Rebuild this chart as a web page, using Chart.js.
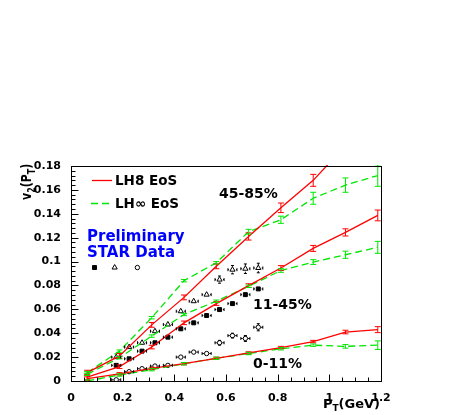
<!DOCTYPE html>
<html>
<head>
<meta charset="utf-8">
<script src="https://cdn.jsdelivr.net/npm/chart.js@4.4.1/dist/chart.umd.min.js"></script>
<style>
  html, body { margin: 0; padding: 0; background: #fff; }
  canvas { display: block; }
</style>
</head>
<body>
<canvas id="v2chart" width="457" height="415"></canvas>
<script>
// hydro curves (LH8 = red solid, LHinf = green dashed), sampled at ptModel
const ptModel = [0.0625, 0.1875, 0.3125, 0.4375, 0.5625, 0.6875, 0.8125, 0.9375, 1.0625, 1.1875];
const lh8Periph   = [0.007, 0.021, 0.047, 0.070, 0.096, 0.121, 0.145, 0.168, 0.197, null];
const lh8PeriphE  = [0.002, 0.002, 0.002, 0.002, 0.002, 0.003, 0.004, 0.005, 0.005, null];
const lh8Mid      = [0.0033, 0.012, 0.0284, 0.0487, 0.0648, 0.0799, 0.0946, 0.111, 0.1244, 0.1386];
const lh8MidE     = [0.002, 0.0015, 0.0015, 0.0015, 0.0015, 0.0015, 0.002, 0.0025, 0.003, 0.0045];
const lh8Central  = [0.002, 0.006, 0.0105, 0.0145, 0.019, 0.0235, 0.028, 0.033, 0.041, 0.043];
const lh8CentralE = [0.0015, 0.001, 0.001, 0.001, 0.001, 0.001, 0.001, 0.001, 0.0015, 0.0025];
const lhInfPeriph   = [0.007, 0.025, 0.053, 0.084, 0.099, 0.125, 0.135, 0.153, 0.164, 0.172];
const lhInfPeriphE  = [0.001, 0.001, 0.001, 0.001, 0.001, 0.002, 0.003, 0.005, 0.006, 0.009];
const lhInfMid      = [0.0056, 0.0195, 0.0376, 0.0557, 0.0668, 0.0793, 0.0925, 0.0996, 0.1057, 0.1119];
const lhInfMidE     = [0.001, 0.001, 0.001, 0.001, 0.001, 0.001, 0.0015, 0.002, 0.003, 0.005];
const lhInfCentral  = [0.0, 0.005, 0.0095, 0.0145, 0.019, 0.023, 0.027, 0.030, 0.029, 0.030];
const lhInfCentralE = [0.001, 0.001, 0.001, 0.001, 0.001, 0.001, 0.001, 0.001, 0.0015, 0.0036];

// STAR preliminary points
const ptData = [0.175, 0.225, 0.275, 0.325, 0.375, 0.425, 0.475, 0.525, 0.575, 0.625, 0.675, 0.725];
const ptDataE = 0.0175;
const starMid      = [0.0131, 0.0186, 0.025, 0.032, 0.0367, 0.0437, 0.0487, 0.0548, 0.0598, 0.0648, 0.0723, 0.0771];
const starMidE     = [0.001, 0.001, 0.001, 0.001, 0.001, 0.001, 0.001, 0.001, 0.001, 0.001, 0.001, 0.001];
const starPeriph   = [0.020, 0.0284, 0.032, 0.0417, 0.0473, 0.0584, 0.0668, 0.0723, 0.0849, 0.0932, 0.094, 0.0946];
const starPeriphE  = [0.0015, 0.0015, 0.0015, 0.0015, 0.0015, 0.0015, 0.002, 0.0025, 0.003, 0.0035, 0.004, 0.004];
const starCentral  = [0.001, 0.0078, 0.0103, 0.0125, 0.0131, 0.020, 0.0242, 0.023, 0.032, 0.038, 0.0356, 0.045];
const starCentralE = [0.001, 0.001, 0.001, 0.001, 0.001, 0.001, 0.0015, 0.0015, 0.002, 0.002, 0.0025, 0.003];

// marker key under "STAR Data"
const keyX = [0.091, 0.169, 0.257];
const keyY = [0.095, 0.095, 0.095];

const ptTicks = [0, 0.2, 0.4, 0.6, 0.8, 1.0, 1.2];
const v2Ticks = [0, 0.02, 0.04, 0.06, 0.08, 0.1, 0.12, 0.14, 0.16, 0.18];

const RED = '#ff0000';
const GREEN = '#00e600';

const zip = (xs, ys) => xs.map((x, i) => ({ x: x, y: ys[i] }));

function model(vals, errs, color, dashed) {
  return {
    data: zip(ptModel, vals),
    errY: errs,
    capW: 3,
    showLine: true,
    borderColor: color,
    borderWidth: 1.3,
    borderDash: dashed ? [7, 4] : [],
    pointRadius: 0,
    tension: 0,
    clip: 1
  };
}

function star(vals, errs, style, radius, fill) {
  return {
    data: zip(ptData, vals),
    errY: errs,
    errX: ptDataE,
    capW: 1.5,
    gap: radius,
    pointStyle: style,
    pointRadius: radius,
    borderWidth: 1,
    borderColor: '#000',
    backgroundColor: fill
  };
}

const errorBars = {
  id: 'errorBars',
  afterDatasetsDraw(chart) {
    const { ctx, chartArea: a, scales: { x, y } } = chart;
    ctx.save();
    ctx.beginPath();
    ctx.rect(a.left, a.top - 1, a.right - a.left, a.bottom - a.top + 2);
    ctx.clip();
    ctx.setLineDash([]);
    ctx.lineWidth = 1;
    const seg = (x1, y1, x2, y2) => { ctx.beginPath(); ctx.moveTo(x1, y1); ctx.lineTo(x2, y2); ctx.stroke(); };
    chart.data.datasets.forEach(ds => {
      if (!ds.errY) return;
      ctx.strokeStyle = ds.borderColor;
      const gap = ds.gap || 0;
      const cw = ds.capW;
      ds.data.forEach((p, j) => {
        if (p.y == null) return;
        const px = x.getPixelForValue(p.x);
        const py = y.getPixelForValue(p.y);
        const top = y.getPixelForValue(p.y + ds.errY[j]);
        const bot = y.getPixelForValue(p.y - ds.errY[j]);
        if (py - top > gap) {
          seg(px, py - gap, px, top);
          seg(px, bot, px, py + gap);
          seg(px - cw, top, px + cw, top);
          seg(px - cw, bot, px + cw, bot);
        }
        if (ds.errX) {
          const l = x.getPixelForValue(p.x - ds.errX);
          const r = x.getPixelForValue(p.x + ds.errX);
          seg(l, py, px - gap - 0.5, py);
          seg(px + gap + 0.5, py, r, py);
          seg(l, py - 1.5, l, py + 1.5);
          seg(r, py - 1.5, r, py + 1.5);
        }
      });
    });
    ctx.restore();
  }
};

const rootFrame = {
  id: 'rootFrame',
  afterDraw(chart) {
    const { ctx, chartArea: a, scales: { x, y } } = chart;
    ctx.save();
    ctx.strokeStyle = '#000';
    ctx.lineWidth = 1;
    ctx.setLineDash([]);
    const L = Math.round(a.left) + 0.5, R = Math.round(a.right) + 0.5;
    const T = Math.round(a.top) + 0.5, B = Math.round(a.bottom) + 0.5;
    ctx.strokeRect(L, T, R - L, B - T);
    ctx.beginPath();
    for (let i = 0; i <= 45; i++) {
      const py = Math.round(y.getPixelForValue(i * 0.004)) + 0.5;
      ctx.moveTo(L, py);
      ctx.lineTo(L + (i % 5 === 0 ? 7 : 4), py);
    }
    for (let i = 0; i <= 24; i++) {
      const px = Math.round(x.getPixelForValue(i * 0.05)) + 0.5;
      ctx.moveTo(px, B);
      ctx.lineTo(px, B - (i % 4 === 0 ? 7 : 4));
    }
    ctx.stroke();

    // legend for the model curves
    ctx.lineWidth = 1.3;
    ctx.strokeStyle = RED;
    ctx.beginPath(); ctx.moveTo(92, 180.5); ctx.lineTo(112, 180.5); ctx.stroke();
    ctx.strokeStyle = GREEN;
    ctx.setLineDash([7, 4]);
    ctx.beginPath(); ctx.moveTo(91, 203.5); ctx.lineTo(113, 203.5); ctx.stroke();
    ctx.setLineDash([]);

    ctx.textBaseline = 'alphabetic';
    ctx.textAlign = 'left';
    ctx.fillStyle = '#000';
    ctx.font = 'bold 13.5px "DejaVu Sans"';
    ctx.fillText('LH8 EoS', 115, 185);
    ctx.fillText('LH\u221E EoS', 115, 208);
    ctx.font = 'bold 14px "DejaVu Sans"';
    ctx.fillText('45-85%', 219, 198);
    ctx.fillText('11-45%', 253, 309);
    ctx.fillText('0-11%', 253, 368);
    ctx.fillStyle = '#0000ff';
    ctx.font = 'bold 15px "DejaVu Sans"';
    ctx.fillText('Preliminary', 87, 241);
    ctx.fillText('STAR Data', 87, 257);

    // axis titles with subscripts
    ctx.fillStyle = '#000';
    const big = 'bold 13px "DejaVu Sans"', sub = 'bold 9px "DejaVu Sans"';
    const xParts = [['P', big, 0], ['T', sub, 3], ['(GeV)', big, 0]];
    let w = 0;
    xParts.forEach(p => { ctx.font = p[1]; w += ctx.measureText(p[0]).width; });
    let cx = 380 - w;
    xParts.forEach(p => { ctx.font = p[1]; ctx.fillText(p[0], cx, 408 + p[2]); cx += ctx.measureText(p[0]).width; });

    ctx.translate(31, 200);
    ctx.rotate(-Math.PI / 2);
    ctx.scale(1, 1.3);
    const ybig = 'bold 11px "DejaVu Sans"', ysub = 'bold 8px "DejaVu Sans"';
    const yParts = [['v', ybig, 0], ['2', ysub, 3], ['(P', ybig, 0], ['T', ysub, 3], [')', ybig, 0]];
    cx = 0;
    yParts.forEach(p => { ctx.font = p[1]; ctx.fillText(p[0], cx, p[2]); cx += ctx.measureText(p[0]).width; });
    ctx.restore();
  }
};

Chart.defaults.font.family = '"DejaVu Sans", sans-serif';

new Chart(document.getElementById('v2chart'), {
  type: 'scatter',
  data: {
    datasets: [
      model(lh8Periph, lh8PeriphE, RED, false),
      model(lh8Mid, lh8MidE, RED, false),
      model(lh8Central, lh8CentralE, RED, false),
      model(lhInfPeriph, lhInfPeriphE, GREEN, true),
      model(lhInfMid, lhInfMidE, GREEN, true),
      model(lhInfCentral, lhInfCentralE, GREEN, true),
      star(starMid, starMidE, 'rect', 2.8, '#000'),
      star(starPeriph, starPeriphE, 'triangle', 3, 'rgba(0,0,0,0)'),
      star(starCentral, starCentralE, 'circle', 2.2, 'rgba(0,0,0,0)'),
      {
        data: zip(keyX, keyY),
        pointStyle: ['rect', 'triangle', 'circle'],
        pointRadius: [2.8, 3, 2.2],
        borderWidth: 1,
        borderColor: '#000',
        backgroundColor: ['#000', 'rgba(0,0,0,0)', 'rgba(0,0,0,0)']
      }
    ]
  },
  options: {
    responsive: false,
    animation: false,
    layout: { padding: { top: 166, right: 76, left: 0, bottom: 0 } },
    plugins: { legend: { display: false }, tooltip: { enabled: false } },
    scales: {
      x: {
        type: 'linear',
        min: 0,
        max: 1.2,
        afterBuildTicks: s => { s.ticks = ptTicks.map(v => ({ value: v })); },
        afterFit: s => { s.height = 34; },
        grid: { display: false },
        border: { display: false },
        ticks: {
          autoSkip: false,
          maxRotation: 0,
          padding: 3,
          color: '#000',
          font: { size: 11, weight: 'bold' },
          callback: v => String(+v.toFixed(2))
        }
      },
      y: {
        type: 'linear',
        min: 0,
        max: 0.18,
        afterBuildTicks: s => { s.ticks = v2Ticks.map(v => ({ value: v })); },
        afterFit: s => { s.width = 71; },
        grid: { display: false },
        border: { display: false },
        ticks: {
          autoSkip: false,
          padding: 2,
          color: '#000',
          font: { size: 11, weight: 'bold' },
          callback: v => String(+v.toFixed(3))
        }
      }
    }
  },
  plugins: [errorBars, rootFrame]
});
</script>
</body>
</html>
